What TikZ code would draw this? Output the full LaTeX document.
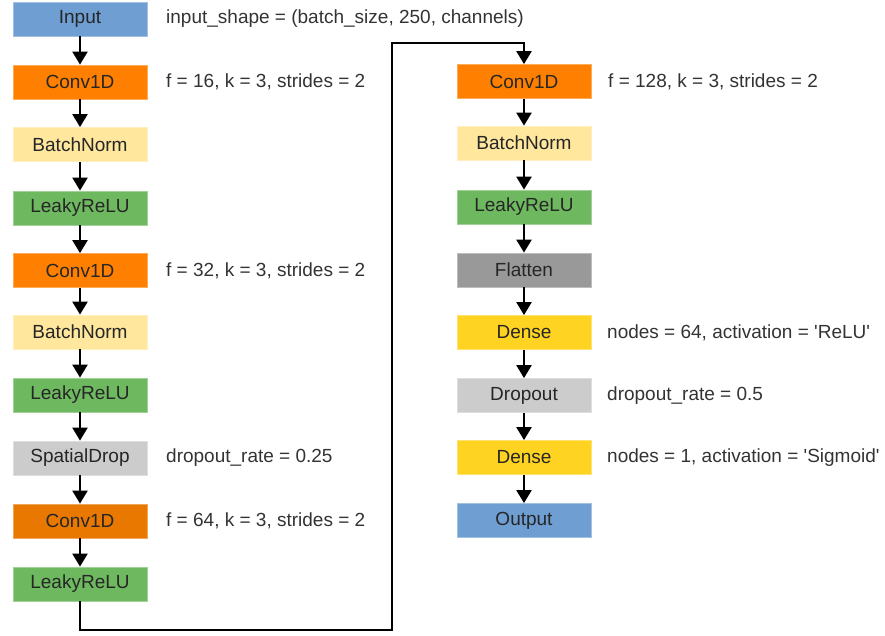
\documentclass[tikz,border=0pt]{standalone}
\usepackage{fontspec}
\setmainfont{Liberation Sans}
\usetikzlibrary{arrows.meta}

% layer colours
\definecolor{ioblue}{RGB}{111,158,210}
\definecolor{convorange}{RGB}{255,128,0}
\definecolor{convdark}{RGB}{233,120,0}
\definecolor{bnyellow}{RGB}{255,231,158}
\definecolor{relugreen}{RGB}{110,185,96}
\definecolor{dropgray}{RGB}{204,204,204}
\definecolor{flatgray}{RGB}{153,153,153}
\definecolor{denseyellow}{RGB}{255,211,34}

\begin{document}
\begin{tikzpicture}[x=1pt,y=-1pt,
  font=\fontsize{19}{23}\selectfont,
  layer/.style={minimum width=134pt, minimum height=34pt, inner sep=0pt,
    text=black!85, fill=#1, draw=#1!65!white, line width=0.8pt},
  flow/.style={line width=2.3pt, line join=miter, -{Triangle[width=15pt,length=13pt]}},
  note/.style={anchor=west, inner sep=0pt, text=black!80}]
\useasboundingbox (0,0) rectangle (885,635);

% encoder column
\node[layer=ioblue]      (l1)  at (80,19)    {Input};
\node[layer=convorange]  (l2)  at (80,82)    {Conv1D};
\node[layer=bnyellow]    (l3)  at (80,144.5) {BatchNorm};
\node[layer=relugreen]   (l4)  at (80,208)   {LeakyReLU};
\node[layer=convorange]  (l5)  at (80,270.5) {Conv1D};
\node[layer=bnyellow]    (l6)  at (80,332)   {BatchNorm};
\node[layer=relugreen]   (l7)  at (80,395)   {LeakyReLU};
\node[layer=dropgray]    (l8)  at (80,458)   {SpatialDrop};
\node[layer=convdark]    (l9)  at (80,521)   {Conv1D};
\node[layer=relugreen]   (l10) at (80,584)   {LeakyReLU};

% classifier column
\node[layer=convorange]  (r1) at (524,81.5)  {Conv1D};
\node[layer=bnyellow]    (r2) at (524,143)   {BatchNorm};
\node[layer=relugreen]   (r3) at (524,207)   {LeakyReLU};
\node[layer=flatgray]    (r4) at (524,270)   {Flatten};
\node[layer=denseyellow] (r5) at (524,332.5) {Dense};
\node[layer=dropgray]    (r6) at (524,395.5) {Dropout};
\node[layer=denseyellow] (r7) at (524,457.5) {Dense};
\node[layer=ioblue]      (r8) at (524,520.5) {Output};

% layer parameters
\node[note] (n1) at (166,19)    {input\_shape = (batch\_size, 250, channels)};
\node[note] (n2) at (166,82)    {f = 16, k = 3, strides = 2};
\node[note] (n5) at (166,270.5) {f = 32, k = 3, strides = 2};
\node[note] (n8) at (166,458)   {dropout\_rate = 0.25};
\node[note] (n9) at (166,521)   {f = 64, k = 3, strides = 2};
\node[note] (m1) at (608,81.5)  {f = 128, k = 3, strides = 2};
\node[note] (m5) at (607,332.5) {nodes = 64, activation = \textquotesingle ReLU\textquotesingle};
\node[note] (m6) at (607,395.5) {dropout\_rate = 0.5};
\node[note] (m7) at (607,457.5) {nodes = 1, activation = \textquotesingle Sigmoid\textquotesingle};

% connectors
\foreach \a/\b in {l1/l2,l2/l3,l3/l4,l4/l5,l5/l6,l6/l7,l7/l8,l8/l9,l9/l10,
                   r1/r2,r2/r3,r3/r4,r4/r5,r5/r6,r6/r7,r7/r8}
  \draw[flow] (\a.south) -- (\b.north);

\coordinate (turnA) at (392,630);
\coordinate (turnB) at (392,43);
\draw[flow] (l10.south) |- (turnA) -- (turnB) -| (r1.north);
\end{tikzpicture}
\end{document}
